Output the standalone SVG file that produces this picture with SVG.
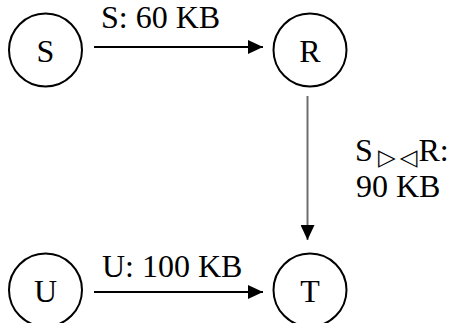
<svg xmlns="http://www.w3.org/2000/svg" width="456" height="323" viewBox="0 0 456 323">
  <style>
    .node circle { fill: #fff; stroke: #000; stroke-width: 2; }
    .lbl { font-family: "Liberation Serif", "Times New Roman", serif; font-size: 32px; fill: #000; }
    .node text { text-anchor: middle; }
    .edge { stroke: #000; stroke-width: 2; fill: none; }
    .edge.grey { stroke: #6e6e6e; }
    .tri { font-family: "DejaVu Sans", sans-serif; font-size: 23px; }
  </style>
  <defs>
    <marker id="arrow" viewBox="0 0 15 14" refX="15" refY="7" markerWidth="15" markerHeight="14" markerUnits="userSpaceOnUse" orient="auto">
      <path d="M0,0 L15,7 L0,14 Z" fill="#000"/>
    </marker>
  </defs>

  <g id="connectors">
    <line class="edge" x1="94" y1="47" x2="263" y2="47" marker-end="url(#arrow)"/>
    <line class="edge grey" x1="307.5" y1="96" x2="307.5" y2="240" marker-end="url(#arrow)"/>
    <line class="edge" x1="94" y1="292" x2="263" y2="292" marker-end="url(#arrow)"/>
    <text class="lbl" x="101" y="28">S: 60 KB</text>
    <text class="lbl" y="161"><tspan x="355">S</tspan><tspan class="tri" x="378" y="165">▷</tspan><tspan class="tri" x="400" y="165">◁</tspan><tspan x="418.5" y="161">R:</tspan></text>
    <text class="lbl" x="356" y="197">90 KB</text>
    <text class="lbl" x="102" y="277">U: 100 KB</text>
  </g>

  <g id="node-S" class="node">
    <circle cx="45.5" cy="50" r="36.5"/>
    <text class="lbl" x="45.5" y="62">S</text>
  </g>
  <g id="node-R" class="node">
    <circle cx="310" cy="50" r="36.5"/>
    <text class="lbl" x="310" y="62">R</text>
  </g>
  <g id="node-U" class="node">
    <circle cx="45.5" cy="290" r="36.5"/>
    <text class="lbl" x="45.5" y="302">U</text>
  </g>
  <g id="node-T" class="node">
    <circle cx="310" cy="290" r="36.5"/>
    <text class="lbl" x="310" y="302">T</text>
  </g>
</svg>
